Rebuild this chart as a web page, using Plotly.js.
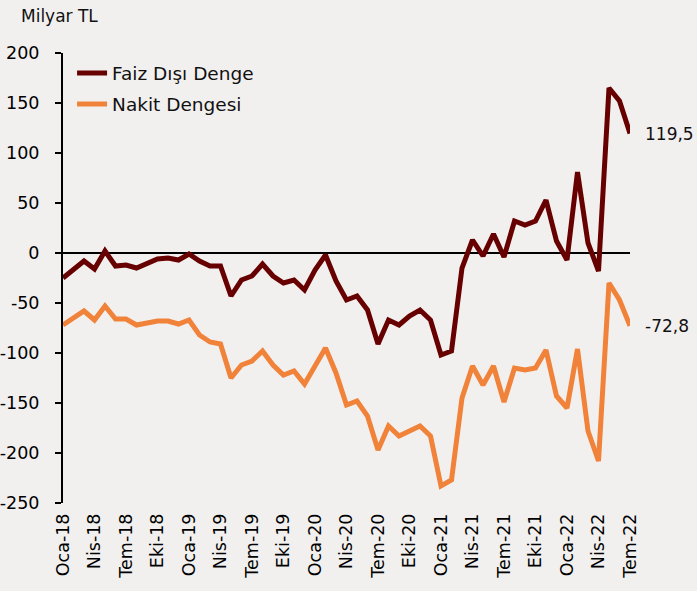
<!DOCTYPE html>
<html>
<head>
<meta charset="utf-8">
<script src="https://cdn.plot.ly/plotly-3.0.1.min.js"></script>
<style>html,body{margin:0;padding:0;background:#f2f0ef;}</style>
</head>
<body>
<div id="chart" style="width:697px;height:591px;"></div>
<script>
// Monthly categories Oca-18 .. Tem-22
const months = [
  "Oca-18","Şub-18","Mar-18","Nis-18","May-18","Haz-18","Tem-18","Ağu-18","Eyl-18","Eki-18","Kas-18","Ara-18",
  "Oca-19","Şub-19","Mar-19","Nis-19","May-19","Haz-19","Tem-19","Ağu-19","Eyl-19","Eki-19","Kas-19","Ara-19",
  "Oca-20","Şub-20","Mar-20","Nis-20","May-20","Haz-20","Tem-20","Ağu-20","Eyl-20","Eki-20","Kas-20","Ara-20",
  "Oca-21","Şub-21","Mar-21","Nis-21","May-21","Haz-21","Tem-21","Ağu-21","Eyl-21","Eki-21","Kas-21","Ara-21",
  "Oca-22","Şub-22","Mar-22","Nis-22","May-22","Haz-22","Tem-22"
];
const faizDisiDenge = [
  -25,-17,-8,-16,2,-13,-12,-15,-10,-6,-5,-7,
  -1,-8,-13,-13,-43,-27,-23,-11,-23,-30,-27,-37,
  -17,-2,-28,-47,-43,-57,-91,-67,-72,-63,-57,-67,
  -102,-98,-15,13,-3,19,-4,32,28,32,53,12,
  -7,81,10,-18,165,152,119.5
];
const nakitDengesi = [
  -72,-65,-58,-67,-53,-66,-66,-72,-70,-68,-68,-71,
  -67,-82,-89,-91,-125,-112,-108,-98,-112,-122,-118,-131,
  -113,-95,-120,-152,-148,-163,-197,-173,-183,-178,-173,-183,
  -233,-227,-145,-113,-132,-113,-149,-115,-117,-115,-97,-143,
  -155,-96,-178,-208,-30,-47,-72.8
];
const xTickLabels = ["Oca-18","Nis-18","Tem-18","Eki-18","Oca-19","Nis-19","Tem-19","Eki-19","Oca-20","Nis-20","Tem-20","Eki-20","Oca-21","Nis-21","Tem-21","Eki-21","Oca-22","Nis-22","Tem-22"];
const yTickVals = [-250,-200,-150,-100,-50,0,50,100,150,200];
const yTickText = ["-250","-200","-150","-100","-50","0","50","100","150","200"];
const seriesNames = ["Faiz Dışı Denge","Nakit Dengesi"];
const lastLabels = ["119,5","-72,8"];

const FONT = "DejaVu Sans, sans-serif";
const colors = ["#670000","#f0823a"];

const traces = [
  {x: months, y: faizDisiDenge, name: seriesNames[0], type: "scatter", mode: "lines",
   line: {color: colors[0], width: 5}, legendgroup: "a"},
  {x: months, y: nakitDengesi, name: seriesNames[1], type: "scatter", mode: "lines",
   line: {color: colors[1], width: 5}, legendgroup: "b"}
];

const last = months.length - 1;
const layout = {
  width: 697, height: 591,
  paper_bgcolor: "#f2f0ef", plot_bgcolor: "#f2f0ef",
  margin: {l: 63, r: 67, t: 53, b: 88, pad: 0},
  font: {family: FONT, size: 17, color: "#000"},
  showlegend: true,
  legend: {x: 0.016, y: 0.997, xanchor: "left", yanchor: "top", bgcolor: "rgba(0,0,0,0)",
           font: {family: FONT, size: 18.5, color: "#111"}, tracegroupgap: 4, traceorder: "grouped"},
  xaxis: {type: "category", categoryorder: "array", categoryarray: months,
          range: [0, last], showgrid: false, zeroline: false, showline: false,
          tickmode: "array", tickvals: xTickLabels, ticktext: xTickLabels,
          tickangle: -90, ticks: "", ticklabelstandoff: 6,
          tickfont: {family: FONT, size: 17.5, color: "#000"}},
  yaxis: {range: [-250, 200], showgrid: false, zeroline: true, zerolinecolor: "#000", zerolinewidth: 2,
          showline: true, linecolor: "#000", linewidth: 2,
          ticks: "outside", ticklen: 6, tickwidth: 2, tickcolor: "#000",
          tickmode: "array", tickvals: yTickVals, ticktext: yTickText, ticklabelstandoff: 12,
          tickfont: {family: FONT, size: 17.5, color: "#000"}},
  annotations: [
    {xref: "paper", yref: "paper", x: -0.077, y: 1.0, yshift: 37, xanchor: "left", yanchor: "middle",
     text: "Milyar TL", showarrow: false, font: {family: FONT, size: 17, color: "#111"}},
    {x: months[last], y: faizDisiDenge[last], xanchor: "left", yanchor: "middle", xshift: 13,
     text: lastLabels[0], showarrow: false, font: {family: FONT, size: 17, color: "#111"}},
    {x: months[last], y: nakitDengesi[last], xanchor: "left", yanchor: "middle", xshift: 13,
     text: lastLabels[1], showarrow: false, font: {family: FONT, size: 17, color: "#111"}}
  ]
};

Plotly.newPlot("chart", traces, layout, {displayModeBar: false, staticPlot: true});
</script>
</body>
</html>
